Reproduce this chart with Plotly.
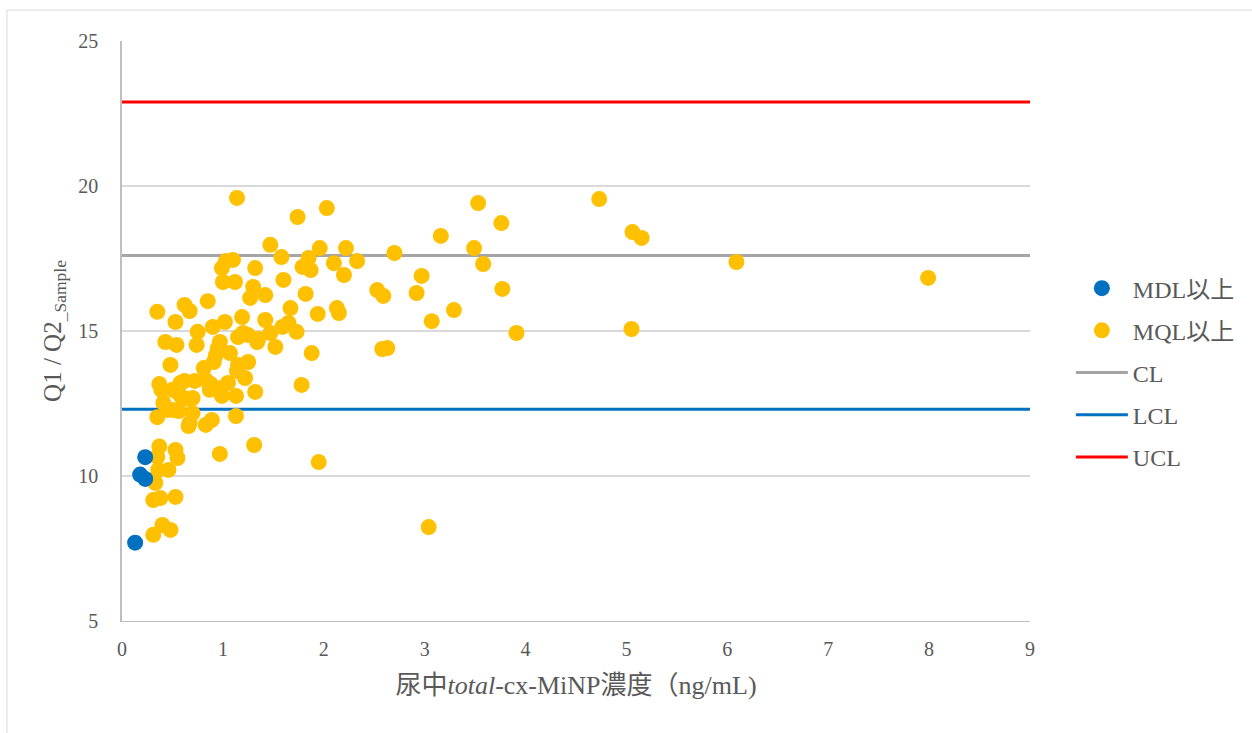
import plotly.graph_objects as go

# Samples above the method detection limit
mdl_x = [0.13, 0.18, 0.23, 0.23]
mdl_y = [7.70, 10.05, 10.65, 9.90]

# Samples above the method quantification limit
mql_x = [4.73, 5.06, 5.15, 5.05, 6.09, 7.99, 3.91, 3.77, 3.76, 3.53,
         3.49, 3.58, 3.16, 3.04, 3.07, 3.29, 2.97, 2.92, 2.70, 2.58,
         2.63, 2.59, 2.53, 2.33, 2.22, 2.20, 2.10, 2.03, 2.13, 2.15,
         1.95, 1.96, 1.94, 1.88, 1.85, 1.87, 1.82, 1.79, 1.78, 1.74,
         1.73, 1.67, 1.65, 1.59, 1.60, 1.58, 1.47, 1.42, 1.42, 1.47,
         1.52, 1.32, 1.30, 1.27, 1.34, 1.20, 1.15, 1.19, 1.14, 1.10,
         1.12, 1.25, 1.15, 1.22, 1.32, 1.13, 1.13, 1.31, 1.05, 1.07,
         0.99, 1.03, 1.00, 1.02, 0.97, 0.95, 0.93, 0.91, 0.88, 0.87,
         0.97, 0.99, 0.90, 0.85, 0.75, 0.74, 0.81, 0.83, 0.83, 0.89,
         0.97, 0.72, 0.70, 0.70, 0.66, 0.67, 0.62, 0.59, 0.58, 0.54,
         0.43, 0.53, 0.48, 0.35, 0.37, 0.39, 0.41, 0.45, 0.50, 0.56,
         0.35, 0.67, 0.37, 0.35, 0.36, 0.46, 0.53, 0.55, 0.31, 0.33,
         0.31, 0.38, 0.53, 0.40, 0.48, 0.31, 0.50, 0.56, 0.62, 0.64,
         0.55, 1.14, 1.25, 1.35]
mql_y = [19.55, 18.41, 18.21, 15.07, 17.38, 16.83, 14.93, 16.45, 18.72, 19.41,
         17.86, 17.31, 18.28, 8.24, 15.34, 15.72, 16.90, 16.31, 17.69, 14.38,
         14.41, 16.21, 16.41, 17.41, 17.86, 16.93, 17.34, 19.24, 15.79, 15.62,
         10.48, 17.86, 15.59, 14.24, 17.52, 17.10, 16.28, 17.21, 13.14, 18.93,
         14.97, 15.79, 15.28, 15.14, 16.76, 17.55, 17.97, 16.24, 15.38, 14.93,
         14.45, 17.17, 16.52, 16.14, 14.62, 14.93, 14.79, 15.48, 19.59, 17.45,
         16.69, 13.93, 13.83, 13.38, 12.90, 12.76, 12.07, 11.07, 13.21, 14.24,
         17.17, 17.41, 16.69, 15.31, 14.62, 14.41, 14.17, 13.93, 13.17, 12.97,
         13.03, 12.76, 15.14, 16.03, 14.97, 14.52, 13.72, 13.31, 11.76, 11.93,
         10.76, 13.28, 12.69, 12.17, 11.72, 15.69, 15.90, 12.72, 13.21, 14.52,
         14.62, 15.31, 13.83, 15.66, 13.17, 12.97, 12.52, 12.28, 12.28, 12.24,
         12.03, 11.83, 11.02, 10.66, 10.21, 10.21, 10.90, 10.62, 9.86, 9.76,
         9.17, 9.24, 9.28, 8.31, 8.14, 7.97, 12.97, 12.86, 13.28, 12.66,
         12.93, 13.62, 14.86, 14.72]

# Control limits (centre, lower, upper)
line_x = [0, 9]
cl_value = 17.6
lcl_value = 12.3
ucl_value = 22.9

serif = "Liberation Serif, Times New Roman, Noto Sans CJK TC, serif"
text_grey = "#595959"

fig = go.Figure()

limit_lines = [
    ("CL", cl_value, "#A5A5A5", 3),
    ("LCL", lcl_value, "#0070C0", 4),
    ("UCL", ucl_value, "#FF0000", 5),
]
for name, val, colour, rank in limit_lines:
    fig.add_trace(go.Scatter(
        x=line_x, y=[val, val], mode="lines", name=name,
        line=dict(color=colour, width=3),
        legendgroup=name, legendrank=rank, hoverinfo="skip",
    ))

fig.add_trace(go.Scatter(
    x=mql_x, y=mql_y, mode="markers", name="MQL以上",
    marker=dict(color="#FFC000", size=16, line=dict(width=0)),
    legendgroup="MQL", legendrank=2,
))
fig.add_trace(go.Scatter(
    x=mdl_x, y=mdl_y, mode="markers", name="MDL以上",
    marker=dict(color="#0070C0", size=16, line=dict(width=0)),
    legendgroup="MDL", legendrank=1,
))

fig.update_layout(
    width=1252, height=733,
    margin=dict(l=122, r=222, t=41, b=112),
    paper_bgcolor="white", plot_bgcolor="white",
    font=dict(family=serif, size=20, color=text_grey),
    showlegend=True,
    legend=dict(
        x=1.045, y=0.612, xanchor="left", yanchor="top",
        font=dict(family=serif, size=24, color=text_grey),
        tracegroupgap=8, itemsizing="trace", itemwidth=52,
        bgcolor="rgba(0,0,0,0)",
    ),
    xaxis=dict(
        range=[0, 9], dtick=1, tick0=0,
        showgrid=False, zeroline=False,
        showline=True, linecolor="#BFBFBF", linewidth=1,
        ticks="", tickfont=dict(size=20, color=text_grey),
        ticklabelstandoff=10,
        title=dict(
            text="尿中<i>total</i>-cx-MiNP濃度（ng/mL)",
            font=dict(size=26, color=text_grey), standoff=16,
        ),
    ),
    yaxis=dict(
        range=[5, 25], dtick=5, tick0=5,
        showgrid=True, gridcolor="#D9D9D9", gridwidth=1.5,
        zeroline=False,
        showline=True, linecolor="#BFBFBF", linewidth=1.5,
        ticks="", tickfont=dict(size=20, color=text_grey),
        ticklabelstandoff=18,
        title=dict(
            text="Q1 / Q2<sub>_Sample</sub>",
            font=dict(size=25, color=text_grey), standoff=10,
        ),
    ),
    shapes=[dict(
        type="rect", xref="paper", yref="paper",
        x0=-0.1267, x1=1.3, y0=-0.25, y1=1.0534,
        line=dict(color="#D9D9D9", width=1), fillcolor="rgba(0,0,0,0)",
        layer="below",
    )],
)

fig.write_html("out.html")
